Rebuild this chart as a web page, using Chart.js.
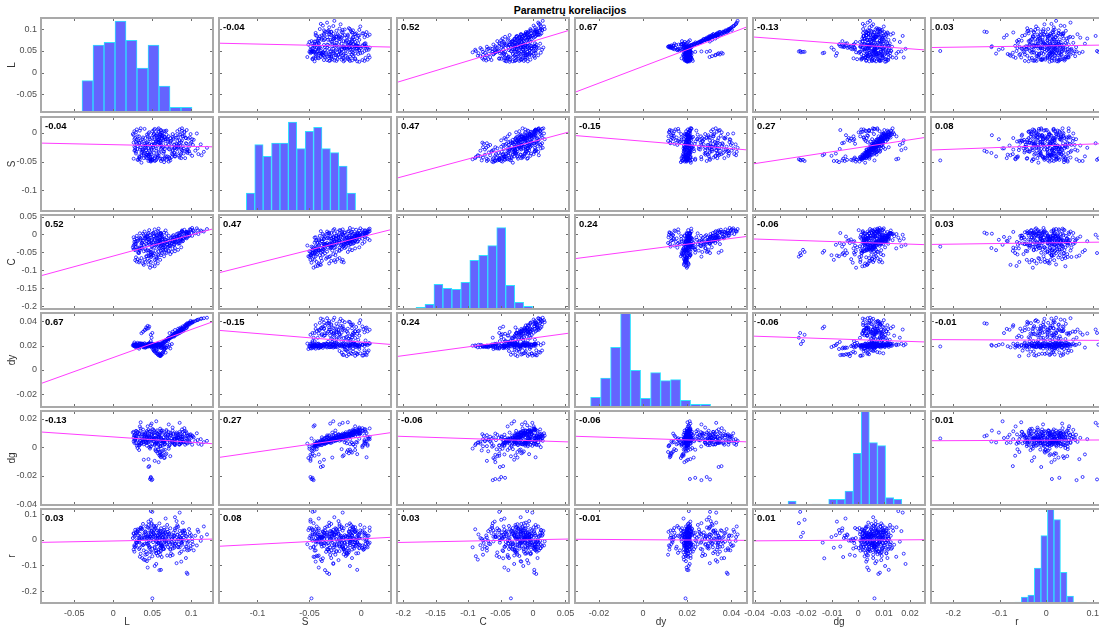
<!DOCTYPE html>
<html>
<head>
<meta charset="utf-8">
<title>Parametrų koreliacijos</title>
<script src="https://cdn.jsdelivr.net/npm/chart.js@4.4.1/dist/chart.umd.min.js"></script>
<style>
  html, body { margin:0; padding:0; background:#fff; }
  body { width:1099px; height:629px; overflow:hidden; position:relative; }
  #title { position:absolute; left:40px; width:1060px; top:4px; text-align:center;
           font:bold 10.5px "Liberation Sans", Arial, sans-serif; color:#000; line-height:13px; }
  canvas { position:absolute; }
</style>
</head>
<body>
<div id="title">Parametrų koreliacijos</div>
<script>
// ---- variables and observations (one line = ten consecutive observations) ----
const varNames = ['L', 'S', 'C', 'dy', 'dg', 'r'];

const L = [
  0.027,0.029,0.031,0.033,0.035,0.037,0.039,0.041,0.043,0.045,
  0.030,0.032,0.034,0.036,0.038,0.042,0.044,0.047,0.049,0.026,
  0.028,0.030,0.031,0.033,0.034,0.036,0.038,0.040,0.041,0.029,
  0.043,0.045,0.047,0.048,0.050,0.052,0.054,0.056,0.058,0.060,
  0.051,0.053,0.054,0.056,0.057,0.058,0.059,0.060,0.061,0.062,
  0.052,0.055,0.057,0.059,0.060,0.061,0.063,0.064,0.065,0.066,
  0.058,0.060,0.061,0.063,0.064,0.066,0.067,0.068,0.069,0.070,
  0.062,0.064,0.067,0.069,0.071,0.072,0.074,0.075,0.077,0.078,
  0.076,0.078,0.079,0.081,0.082,0.084,0.085,0.087,0.088,0.090,
  0.080,0.082,0.083,0.085,0.086,0.088,0.089,0.091,0.093,0.094,
  0.086,0.088,0.090,0.091,0.093,0.094,0.096,0.097,0.099,0.100,
  0.095,0.098,0.101,0.103,0.105,0.107,0.109,0.112,0.116,0.120,
  0.031,0.034,0.037,0.040,0.043,0.046,0.049,0.052,0.055,0.058,
  0.047,0.048,0.049,0.048,0.050,0.045,0.046,0.040,0.042,0.044,
  0.061,0.063,0.065,0.066,0.068,0.069,0.071,0.072,0.073,0.075,
  0.071,0.073,0.075,0.077,0.079,0.081,0.083,0.085,0.087,0.089,
  0.045,0.047,0.049,0.051,0.053,0.054,0.056,0.057,0.059,0.060,
  0.050,0.059,0.044,0.094,0.095,0.087,0.048,0.085,0.055,0.034,
  0.072,0.076,0.079,0.083,0.086,0.089,0.092,0.095,0.098,0.102,
  0.025,0.027,0.028,0.030,0.032,0.026,0.029,0.033,0.035,0.027,
  0.041,0.058,0.033,0.049,0.062,0.037,0.054,0.029,0.046,0.065,
  0.094,0.078,0.108,0.085,0.071,0.101,0.089,0.076,0.113,0.083,
  0.063,0.055,0.067,0.058,0.052,0.061,0.066,0.056,0.060,0.053,
  0.036,0.026,0.043,0.031,0.039,0.028,0.045,0.034,0.027,0.041,
  0.048,0.061,0.052,0.057,0.046,0.064,0.050,0.059,0.055,0.063,
  0.082,0.097,0.088,0.079,0.093,0.084,0.099,0.091,0.087,0.081,
  0.039,0.071,0.053,0.044,0.066,0.035,0.058,0.076,0.049,0.062,
  0.046,0.042,0.053,0.049,0.057,0.044,0.051,0.039,0.055,0.048,
  0.073,0.064,0.079,0.068,0.061,0.076,0.070,0.066,0.078,0.062,
  0.038,0.041,0.036,0.043,0.053,0.067,0.081,0.061,0.045,0.073
];
const S = [
  -0.031,-0.036,-0.028,-0.041,-0.025,-0.033,-0.044,-0.022,-0.038,-0.027,
  -0.012,-0.047,-0.018,-0.039,-0.008,-0.043,-0.015,-0.034,-0.021,-0.045,
  -0.026,-0.019,-0.023,-0.017,-0.029,-0.021,-0.031,-0.018,-0.025,-0.033,
  -0.044,-0.040,-0.046,-0.037,-0.042,-0.035,-0.048,-0.039,-0.033,-0.045,
  -0.015,-0.008,-0.019,-0.004,-0.012,0.002,-0.017,-0.006,0.004,-0.010,
  -0.002,-0.014,0.006,-0.009,-0.018,0.001,-0.005,-0.013,0.003,-0.011,
  -0.016,-0.003,-0.021,0.001,-0.012,-0.007,-0.019,0.004,-0.010,-0.015,
  -0.026,-0.032,-0.011,-0.024,-0.006,-0.029,-0.014,-0.036,-0.009,-0.021,
  -0.038,-0.027,-0.041,-0.019,-0.033,-0.024,-0.043,-0.016,-0.030,-0.036,
  -0.004,0.003,-0.008,0.006,-0.002,0.008,-0.006,0.002,-0.009,0.005,
  -0.022,-0.013,-0.027,-0.005,-0.018,-0.029,-0.010,-0.024,-0.002,-0.016,
  -0.035,-0.008,-0.040,-0.012,-0.031,-0.001,-0.037,-0.020,-0.033,-0.026,
  -0.006,0.004,-0.011,0.007,-0.003,0.001,-0.009,0.005,-0.005,0.008,
  -0.048,-0.047,-0.046,-0.049,-0.047,-0.039,-0.037,-0.024,-0.031,-0.020,
  -0.049,-0.046,-0.051,-0.043,-0.047,-0.041,-0.050,-0.044,-0.048,-0.042,
  -0.028,-0.017,-0.024,-0.011,-0.026,-0.008,-0.021,-0.013,-0.029,-0.006,
  -0.026,-0.011,-0.029,-0.004,-0.019,-0.024,-0.007,-0.016,-0.022,-0.002,
  -0.048,-0.035,-0.041,-0.033,-0.031,-0.044,-0.045,-0.018,-0.027,-0.046,
  -0.045,-0.032,-0.041,-0.026,-0.038,-0.023,-0.044,-0.029,-0.036,-0.021,
  -0.002,0.003,-0.009,0.006,-0.013,-0.017,0.001,-0.006,0.008,-0.011,
  -0.037,-0.012,-0.044,-0.021,-0.005,-0.029,-0.041,-0.016,-0.008,-0.033,
  -0.019,-0.035,-0.027,-0.003,-0.042,-0.011,-0.031,-0.007,-0.039,-0.024,
  -0.004,-0.016,0.003,-0.011,-0.021,0.005,-0.008,-0.001,-0.014,0.007,
  -0.052,-0.004,-0.038,-0.047,-0.015,-0.030,-0.001,-0.042,-0.024,-0.009,
  -0.050,-0.028,-0.002,-0.043,-0.019,-0.036,0.003,-0.011,-0.047,-0.024,
  -0.014,-0.032,0.004,-0.026,-0.009,-0.040,-0.018,0.001,-0.036,-0.022,
  -0.036,-0.021,-0.049,-0.006,-0.028,-0.013,-0.040,-0.002,-0.030,-0.045,
  -0.038,-0.030,-0.044,-0.027,-0.041,-0.034,-0.025,-0.039,-0.031,-0.043,
  -0.009,-0.025,-0.038,-0.003,-0.017,-0.030,-0.012,-0.045,-0.020,-0.006,
  -0.029,-0.022,-0.035,-0.017,-0.011,-0.041,-0.027,-0.004,-0.049,-0.015
];
const C = [
  -0.028,-0.035,-0.019,-0.042,-0.011,-0.024,-0.047,-0.006,-0.031,-0.015,
  -0.004,-0.052,-0.009,-0.038,0.002,-0.045,-0.013,-0.027,-0.018,-0.041,
  -0.072,-0.076,-0.069,-0.078,-0.074,-0.066,-0.081,-0.071,-0.077,-0.064,
  -0.061,-0.084,-0.093,-0.057,-0.088,-0.053,-0.079,-0.066,-0.048,-0.071,
  -0.022,-0.011,-0.031,-0.002,-0.018,0.006,-0.027,-0.008,0.003,-0.014,
  -0.005,-0.025,0.009,-0.016,-0.034,-0.001,-0.012,-0.021,0.005,-0.019,
  -0.038,-0.019,-0.046,-0.012,-0.031,-0.024,-0.041,-0.008,-0.027,-0.035,
  -0.029,-0.037,-0.015,-0.022,-0.004,-0.031,-0.010,-0.026,-0.002,-0.017,
  -0.019,-0.008,-0.014,0.001,-0.011,-0.004,-0.016,0.006,-0.006,-0.012,
  -0.021,-0.007,-0.026,0.004,-0.013,0.009,-0.018,-0.003,-0.009,0.007,
  -0.002,0.008,-0.009,0.013,0.002,-0.011,0.006,-0.004,0.011,0.004,
  -0.007,0.014,-0.004,0.009,0.003,0.017,0.001,0.011,0.008,0.015,
  -0.017,0.003,-0.023,0.008,-0.008,0.012,-0.014,0.004,-0.003,0.016,
  -0.058,-0.043,-0.062,-0.049,-0.052,-0.051,-0.046,-0.012,-0.027,-0.006,
  -0.058,-0.044,-0.061,-0.036,-0.052,-0.029,-0.047,-0.033,-0.055,-0.024,
  -0.045,-0.032,-0.049,-0.027,-0.038,-0.021,-0.043,-0.025,-0.036,-0.019,
  -0.021,-0.002,-0.028,0.004,-0.016,-0.025,-0.006,-0.012,-0.019,0.001,
  -0.034,-0.038,-0.044,0.002,0.005,-0.018,-0.009,-0.001,-0.029,-0.039,
  -0.023,-0.009,-0.017,0.003,-0.013,0.007,-0.008,0.004,-0.003,0.012,
  -0.036,-0.021,-0.044,-0.012,-0.049,-0.031,-0.026,-0.039,-0.016,-0.042,
  -0.041,-0.009,-0.052,-0.024,-0.003,-0.037,-0.046,-0.019,-0.012,-0.029,
  0.006,-0.028,0.012,-0.004,-0.033,0.018,-0.011,-0.015,0.009,-0.021,
  -0.006,-0.028,0.011,-0.019,-0.037,0.004,-0.013,-0.002,-0.024,0.014,
  -0.031,-0.008,-0.019,-0.036,-0.002,-0.027,0.004,-0.044,-0.014,-0.011,
  -0.063,-0.031,-0.005,-0.056,-0.022,-0.042,0.002,-0.014,-0.069,-0.027,
  -0.008,0.003,0.011,-0.019,0.007,-0.024,0.014,0.002,-0.013,-0.006,
  -0.029,-0.017,-0.071,0.001,-0.024,-0.012,-0.058,-0.005,-0.033,-0.052,
  -0.074,-0.061,-0.089,-0.055,-0.081,-0.068,-0.058,-0.085,-0.063,-0.077,
  -0.014,-0.036,-0.047,0.003,-0.023,-0.039,-0.018,-0.051,-0.029,-0.008,
  -0.018,-0.009,-0.026,-0.004,-0.015,-0.044,-0.007,0.002,-0.059,-0.021
];
const dy = [
  0.0205,0.0212,0.0198,0.0215,0.0203,0.0209,0.0196,0.0211,0.0201,0.0207,
  0.0210,0.0199,0.0218,0.0204,0.0213,0.0194,0.0208,0.0216,0.0202,0.0197,
  0.0188,0.0192,0.0185,0.0195,0.0190,0.0198,0.0186,0.0193,0.0189,0.0196,
  0.0201,0.0206,0.0198,0.0211,0.0194,0.0208,0.0203,0.0196,0.0214,0.0199,
  0.0165,0.0152,0.0141,0.0133,0.0126,0.0119,0.0122,0.0115,0.0128,0.0137,
  0.0172,0.0158,0.0146,0.0131,0.0124,0.0117,0.0139,0.0149,0.0161,0.0175,
  0.0184,0.0192,0.0201,0.0209,0.0218,0.0226,0.0234,0.0241,0.0248,0.0237,
  0.0223,0.0231,0.0244,0.0253,0.0262,0.0258,0.0271,0.0279,0.0286,0.0292,
  0.0283,0.0291,0.0298,0.0305,0.0301,0.0312,0.0319,0.0325,0.0331,0.0336,
  0.0296,0.0308,0.0303,0.0316,0.0322,0.0329,0.0318,0.0334,0.0341,0.0347,
  0.0327,0.0338,0.0344,0.0352,0.0359,0.0365,0.0371,0.0378,0.0384,0.0391,
  0.0362,0.0373,0.0386,0.0395,0.0401,0.0408,0.0413,0.0419,0.0424,0.0428,
  0.0207,0.0213,0.0201,0.0219,0.0209,0.0204,0.0216,0.0211,0.0205,0.0218,
  0.0212,0.0236,0.0264,0.0288,0.0303,0.0342,0.0355,0.0326,0.0348,0.0361,
  0.0178,0.0186,0.0171,0.0194,0.0182,0.0199,0.0189,0.0205,0.0176,0.0212,
  0.0252,0.0261,0.0268,0.0275,0.0283,0.0289,0.0296,0.0302,0.0311,0.0318,
  0.0193,0.0201,0.0188,0.0197,0.0205,0.0191,0.0203,0.0196,0.0208,0.0199,
  0.0192,0.0205,0.0197,0.0379,0.0383,0.0336,0.0207,0.0331,0.0211,0.0203,
  0.0302,0.0313,0.0327,0.0338,0.0346,0.0357,0.0368,0.0374,0.0389,0.0397,
  0.0201,0.0195,0.0209,0.0203,0.0197,0.0211,0.0206,0.0192,0.0214,0.0199,
  0.0181,0.0196,0.0174,0.0203,0.0187,0.0215,0.0178,0.0192,0.0221,0.0184,
  0.0348,0.0284,0.0409,0.0317,0.0263,0.0392,0.0331,0.0297,0.0421,0.0309,
  0.0128,0.0167,0.0142,0.0184,0.0155,0.0121,0.0173,0.0136,0.0113,0.0159,
  0.0216,0.0203,0.0194,0.0222,0.0208,0.0199,0.0213,0.0191,0.0225,0.0202,
  0.0197,0.0209,0.0188,0.0215,0.0201,0.0193,0.0212,0.0206,0.0195,0.0218,
  0.0315,0.0386,0.0342,0.0299,0.0367,0.0327,0.0402,0.0356,0.0339,0.0306,
  0.0203,0.0264,0.0196,0.0209,0.0229,0.0201,0.0187,0.0281,0.0214,0.0183,
  0.0194,0.0187,0.0201,0.0183,0.0205,0.0191,0.0198,0.0185,0.0209,0.0196,
  0.0268,0.0219,0.0293,0.0247,0.0208,0.0281,0.0255,0.0236,0.0274,0.0214,
  0.0312,0.0329,0.0301,0.0338,0.0206,0.0183,0.0302,0.0199,0.0214,0.0267
];
const dg = [
  0.0085,0.0062,0.0104,0.0035,0.0118,0.0071,0.0022,0.0093,0.0056,0.0079,
  0.0112,0.0015,0.0097,0.0049,0.0125,0.0031,0.0106,0.0068,0.0089,0.0043,
  0.0062,0.0081,0.0054,0.0093,0.0047,0.0075,0.0039,0.0086,0.0058,0.0031,
  0.0012,0.0034,-0.0008,0.0051,0.0025,0.0066,-0.0021,0.0042,0.0073,0.0009,
  0.0048,0.0022,-0.0012,0.0035,-0.0041,0.0017,-0.0055,0.0008,0.0042,-0.0028,
  0.0061,0.0029,0.0074,-0.0036,-0.0062,0.0011,0.0038,-0.0019,0.0052,0.0024,
  0.0065,0.0102,0.0047,0.0118,0.0071,0.0089,0.0053,0.0113,0.0076,0.0061,
  0.0057,0.0043,0.0095,0.0068,0.0107,0.0049,0.0084,0.0036,0.0091,0.0063,
  0.0035,0.0062,0.0027,0.0081,0.0049,0.0068,0.0021,0.0077,0.0056,0.0039,
  0.0094,0.0042,0.0086,0.0021,0.0098,0.0057,0.0079,0.0115,0.0033,0.0101,
  0.0058,0.0074,0.0041,0.0096,0.0063,0.0032,0.0085,0.0049,0.0092,0.0067,
  0.0028,0.0087,0.0019,0.0071,0.0044,0.0099,0.0025,0.0058,0.0037,0.0046,
  0.0108,0.0027,0.0093,0.0061,0.0115,0.0002,0.0096,0.0042,0.0109,0.0074,
  -0.0221,-0.0213,-0.0229,-0.0207,-0.0224,-0.0137,-0.0131,0.0072,0.0038,0.0083,
  -0.0052,0.0011,-0.0074,0.0026,-0.0043,0.0038,-0.0009,0.0017,-0.0061,0.0044,
  0.0051,0.0083,0.0062,0.0097,0.0056,0.0104,0.0069,0.0091,0.0047,0.0108,
  0.0071,0.0114,0.0058,0.0126,0.0087,0.0066,0.0119,0.0095,0.0079,0.0131,
  0.0063,0.0041,0.0035,0.0084,0.0078,0.0031,0.0155,0.0172,0.0183,0.0147,
  0.0016,0.0048,0.0023,0.0064,0.0031,0.0072,0.0019,0.0053,0.0036,0.0077,
  0.0104,0.0031,0.0089,0.0012,0.0077,0.0069,0.0116,-0.0018,0.0133,0.0054,
  0.0044,0.0091,0.0012,0.0067,0.0103,0.0058,0.0026,0.0082,0.0111,0.0037,
  0.0061,0.0024,0.0052,0.0109,0.0007,0.0083,0.0039,0.0117,0.0018,0.0072,
  -0.0047,0.0036,0.0083,-0.0015,0.0058,-0.0069,0.0021,0.0097,-0.0032,0.0064,
  0.0027,0.0109,0.0071,-0.0004,0.0094,0.0053,0.0123,0.0018,0.0082,0.0101,
  0.0005,0.0063,0.0118,-0.0013,0.0077,0.0031,0.0128,0.0089,-0.0027,0.0052,
  0.0094,0.0042,0.0126,0.0058,0.0113,0.0021,0.0076,0.0135,0.0033,0.0067,
  -0.0086,0.0161,-0.0094,0.0148,-0.0071,0.0176,-0.0103,0.0139,0.0167,-0.0058,
  0.0043,0.0069,0.0016,0.0088,0.0027,0.0054,0.0097,0.0035,0.0062,0.0008,
  0.0101,0.0047,0.0016,0.0122,0.0069,0.0033,0.0087,-0.0016,0.0058,0.0114,
  0.0052,0.0089,0.0031,0.0075,0.0104,-0.0049,0.0066,0.0118,-0.0082,0.0091
];
const r = [
  0.012,-0.024,0.031,-0.008,0.045,0.003,-0.041,0.019,-0.015,0.027,
  -0.002,0.038,-0.031,0.008,-0.019,0.052,0.014,-0.047,0.006,0.023,
  0.017,-0.012,0.034,-0.036,0.002,0.041,-0.021,0.009,-0.058,0.026,
  -0.006,0.021,-0.029,0.011,-0.064,0.037,0.004,-0.017,0.029,-0.042,
  0.013,-0.027,0.046,-0.009,0.018,-0.038,0.007,0.031,-0.016,0.001,
  0.024,-0.051,0.015,-0.003,0.036,-0.022,0.011,-0.034,0.048,-0.007,
  -0.013,0.022,-0.044,0.005,0.033,-0.019,0.014,-0.005,0.058,-0.028,
  0.019,-0.036,0.008,0.041,-0.011,0.026,-0.053,0.003,0.017,-0.024,
  0.012,-0.031,0.044,-0.008,0.021,-0.017,0.035,-0.046,0.002,0.027,
  -0.014,0.019,0.051,-0.029,0.006,-0.011,0.032,-0.038,0.015,-0.002,
  0.024,-0.019,0.009,0.037,-0.026,0.013,-0.007,0.042,-0.033,0.018,
  -0.012,0.027,0.004,-0.041,0.016,-0.022,0.031,-0.004,0.052,0.021,
  -0.009,0.024,0.043,-0.016,0.006,-0.032,0.019,0.001,-0.053,0.035,
  0.012,0.028,0.065,0.078,0.109,-0.011,-0.072,0.028,-0.046,0.009,
  0.016,-0.027,0.038,-0.004,0.021,-0.061,0.007,-0.019,0.045,-0.008,
  0.013,-0.035,0.002,0.029,-0.016,0.048,-0.027,0.011,-0.004,0.036,
  -0.021,0.014,0.033,-0.009,0.051,-0.043,0.004,-0.012,0.024,-0.031,
  -0.228,-0.118,-0.108,-0.128,-0.133,-0.085,0.112,0.106,-0.094,-0.066,
  0.021,-0.013,0.037,-0.029,0.008,-0.005,0.026,-0.041,0.015,-0.018,
  0.007,-0.026,0.039,-0.011,0.017,-0.038,0.029,-0.002,0.048,-0.021,
  0.033,-0.048,0.007,0.061,-0.022,-0.071,0.019,-0.009,0.044,-0.036,
  -0.027,0.014,0.039,-0.052,0.022,-0.006,0.067,-0.034,0.011,0.003,
  0.009,-0.041,0.028,-0.013,0.054,-0.026,0.002,0.037,-0.058,0.016,
  -0.017,0.026,-0.083,0.041,0.003,-0.029,0.058,0.012,-0.046,0.031,
  0.046,-0.011,0.021,-0.062,0.008,0.029,-0.035,0.064,-0.004,-0.021,
  0.057,-0.039,0.016,0.088,-0.071,0.004,-0.024,0.035,-0.013,0.073,
  0.018,-0.007,-0.031,0.049,0.026,-0.054,0.011,-0.019,0.034,-0.067,
  -0.026,0.012,0.041,-0.049,0.007,-0.015,0.029,-0.077,0.054,-0.003,
  -0.038,0.022,0.003,-0.017,0.045,-0.059,0.031,-0.002,0.016,-0.026,
  0.062,-0.079,0.047,-0.056,-0.102,0.083,-0.091,-0.117,0.071,-0.063
];

// pairwise correlation coefficients printed in the panels (row variable, column variable)
const corrValues = [
  [ null, -0.04,  0.52,  0.67, -0.13,  0.03],
  [-0.04,  null,  0.47, -0.15,  0.27,  0.08],
  [ 0.52,  0.47,  null,  0.24, -0.06,  0.03],
  [ 0.67, -0.15,  0.24,  null, -0.06, -0.01],
  [-0.13,  0.27, -0.06, -0.06,  null,  0.01],
  [ 0.03,  0.08,  0.03, -0.01,  0.01,  null]
];

// histogram bin frequencies on the diagonal
const histL  = [97, 204, 212, 276, 218, 135, 204, 81, 17, 17, 3];
const histS  = [57, 202, 167, 207, 207, 270, 190, 242, 254, 190, 178, 138, 57];
const histC  = [8, 17, 77, 65, 62, 83, 149, 164, 193, 247, 74, 23, 11];
const histDy = [32, 90, 182, 288, 113, 29, 106, 82, 85, 23, 11, 11];
const histDg = [15, 3, 0, 6, 0, 20, 20, 45, 158, 288, 190, 181, 25, 20, 3];
const histR  = [2, 0, 0, 0, 0, 5, 3, 6, 21, 27, 108, 205, 286, 253, 95, 24, 1, 6];

// tick values of each variable's axis
const ticksL  = [-0.05, 0, 0.05, 0.1];
const ticksS  = [-0.1, -0.05, 0];
const ticksC  = [-0.2, -0.15, -0.1, -0.05, 0, 0.05];
const ticksDy = [-0.02, 0, 0.02, 0.04];
const ticksDg = [-0.04, -0.03, -0.02, -0.01, 0, 0.01, 0.02];
const ticksDgVertical = [-0.04, -0.02, 0, 0.02];
const ticksR  = [-0.2, -0.1, 0, 0.1];

// ---- drawing ----
const FONT = '"Liberation Sans", Arial, sans-serif';
Chart.defaults.font.family = FONT;

const series = { L, S, C, dy, dg, r };
const hist = { L: histL, S: histS, C: histC, dy: histDy, dg: histDg, r: histR };
const ticksX = { L: ticksL, S: ticksS, C: ticksC, dy: ticksDy, dg: ticksDg, r: ticksR };
const ticksY = { L: ticksL, S: ticksS, C: ticksC, dy: ticksDy, dg: ticksDgVertical, r: ticksR };
const limits = {
  L: [-0.094, 0.129], S: [-0.138, 0.0295], C: [-0.211, 0.057],
  dy: [-0.0313, 0.0475], dg: [-0.041, 0.0262], r: [-0.25, 0.124]
};
// visible window of each histogram, in bin units
const histWindow = {
  L: [-3.82, 12.0], S: [-3.37, 17.33], C: [-2.23, 17.17],
  dy: [-1.66, 15.74], dg: [-4.43, 16.97], r: [-5.97, 20.66]
};
const HIST_TOP = 288;

const colX = [40, 218, 396, 574, 752, 930];
const rowY = [17, 116, 214, 312, 410, 508];
const PW = 174, PH = 96, M = 10;

const mean = a => a.reduce((s, v) => s + v, 0) / a.length;
const sd = a => { const m = mean(a); return Math.sqrt(a.reduce((s, v) => s + (v - m) * (v - m), 0) / (a.length - 1)); };

// frame, inward tick marks and the correlation text of a panel
const panelDeco = {
  id: 'panelDeco',
  afterDraw(chart, args, o) {
    const { ctx, chartArea: a } = chart;
    const sx = chart.scales.x, sy = chart.scales.y;
    ctx.save();
    ctx.strokeStyle = '#6e6e6e';
    ctx.lineWidth = 1;
    ctx.beginPath();
    for (const v of o.xt) {
      const p = Math.round(sx.getPixelForValue(v)) + 0.5;
      if (p < a.left + 2 || p > a.right - 2) continue;
      ctx.moveTo(p, a.bottom); ctx.lineTo(p, a.bottom - 4);
      ctx.moveTo(p, a.top); ctx.lineTo(p, a.top + 4);
    }
    for (const v of o.yt) {
      const p = Math.round(sy.getPixelForValue(v)) + 0.5;
      if (p < a.top + 2 || p > a.bottom - 2) continue;
      ctx.moveTo(a.left, p); ctx.lineTo(a.left + 4, p);
      ctx.moveTo(a.right, p); ctx.lineTo(a.right - 4, p);
    }
    ctx.stroke();
    ctx.strokeStyle = '#a9a9a9';
    ctx.lineWidth = 2;
    ctx.strokeRect(a.left + 1, a.top + 1, a.width - 2, a.height - 2);
    if (o.label) {
      ctx.fillStyle = '#000';
      ctx.font = 'bold 9.5px ' + FONT;
      ctx.textBaseline = 'middle';
      ctx.textAlign = 'left';
      ctx.fillText(o.label, a.left + 5, a.top + 10);
    }
    ctx.restore();
  }
};

function varScale(v, axis, shown) {
  const lim = limits[v];
  const list = axis === 'x' ? ticksX[v] : ticksY[v];
  const cfg = {
    type: 'linear', min: lim[0], max: lim[1], display: shown, offset: false,
    position: axis === 'x' ? 'bottom' : 'left',
    grid: { display: false, drawTicks: false },
    border: { display: false },
    afterBuildTicks: s => { s.ticks = list.map(value => ({ value })); },
    ticks: {
      autoSkip: false, maxRotation: 0, minRotation: 0,
      padding: axis === 'x' ? 4 : 3,
      color: '#4d4d4d', font: { family: FONT, size: 9 },
      callback: value => String(value)
    },
    title: {
      display: shown, text: v, color: '#333', font: { family: FONT, size: 10 },
      padding: axis === 'x' ? { top: 0, bottom: 2 } : { top: 6, bottom: 0 }
    }
  };
  if (shown) {
    cfg.afterFit = axis === 'x'
      ? s => { s.height = 26; s.paddingLeft = 0; s.paddingRight = 0; }
      : s => { s.width = 40; s.paddingTop = 0; s.paddingBottom = 0; };
  }
  return cfg;
}

function baseOptions(row, col, scales, deco) {
  return {
    responsive: false, animation: false, events: [], devicePixelRatio: 1,
    layout: { padding: { left: col === 0 ? 0 : M, right: M, top: M, bottom: M } },
    plugins: { legend: { display: false }, tooltip: { enabled: false }, panelDeco: deco },
    scales
  };
}

function makeCanvas(row, col) {
  const cv = document.createElement('canvas');
  const extraL = col === 0 ? 40 : M;
  const w = PW + extraL + M;
  const h = PH + 2 * M + (row === 5 ? 26 : 0);
  cv.width = w; cv.height = h;
  cv.style.left = (colX[col] - extraL) + 'px';
  cv.style.top = (rowY[row] - M) + 'px';
  cv.style.width = w + 'px';
  cv.style.height = h + 'px';
  document.body.appendChild(cv);
  return cv;
}

function makeScatter(row, col) {
  const xv = varNames[col], yv = varNames[row];
  const xs = series[xv], ys = series[yv];
  const rho = corrValues[row][col];
  const slope = rho * sd(ys) / sd(xs);
  const icpt = mean(ys) - slope * mean(xs);
  const [x0, x1] = limits[xv];
  new Chart(makeCanvas(row, col), {
    type: 'scatter',
    data: {
      datasets: [
        {
          data: [{ x: x0, y: icpt + slope * x0 }, { x: x1, y: icpt + slope * x1 }],
          showLine: true, borderColor: '#ff3cff', borderWidth: 1, pointRadius: 0, order: 0
        },
        {
          data: xs.map((x, i) => ({ x, y: ys[i] })),
          pointStyle: 'circle', pointRadius: 1.5, borderWidth: 0.75,
          borderColor: '#0000ff', backgroundColor: 'rgba(0,0,0,0)', order: 1
        }
      ]
    },
    options: baseOptions(row, col, {
      x: varScale(xv, 'x', row === 5),
      y: varScale(yv, 'y', col === 0)
    }, { xt: ticksX[xv], yt: ticksY[yv], label: rho.toFixed(2) }),
    plugins: [panelDeco]
  });
}

function makeHist(k) {
  const v = varNames[k];
  const win = histWindow[v];
  new Chart(makeCanvas(k, k), {
    type: 'bar',
    data: {
      datasets: [{
        data: hist[v].map((c, i) => ({ x: i + 0.5, y: c })),
        xAxisID: 'xh', yAxisID: 'yh',
        backgroundColor: '#6464ff', borderColor: '#2fe0ff', borderWidth: 1,
        borderSkipped: false, barPercentage: 1, categoryPercentage: 1
      }]
    },
    options: baseOptions(k, k, {
      x: varScale(v, 'x', k === 5),
      y: varScale(v, 'y', k === 0),
      xh: { type: 'linear', min: win[0], max: win[1], display: false, offset: false },
      yh: { type: 'linear', min: 0, max: HIST_TOP, display: false, offset: false }
    }, { xt: ticksX[v], yt: ticksY[v], label: null }),
    plugins: [panelDeco]
  });
}

for (let row = 0; row < 6; row++) {
  for (let col = 0; col < 6; col++) {
    if (row === col) makeHist(row); else makeScatter(row, col);
  }
}
</script>
</body>
</html>
